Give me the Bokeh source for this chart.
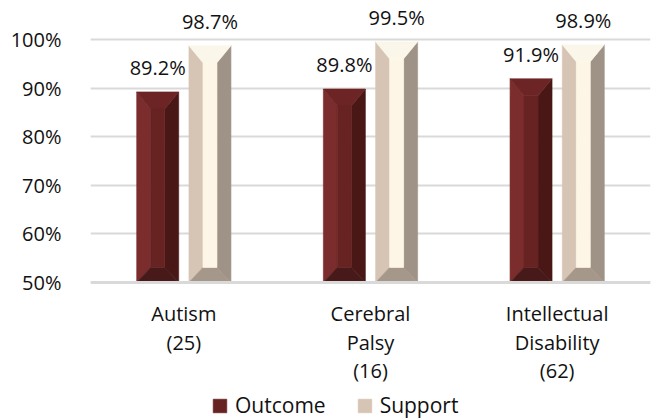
from bokeh.plotting import figure
from bokeh.models import (Range1d, FixedTicker, PrintfTickFormatter,
                          ColumnDataSource, Legend, LegendItem, Span)
from bokeh.embed import file_html
from bokeh.resources import INLINE
from bokeh.core.properties import value

# ---- data -------------------------------------------------------------
categories = ["Autism\n(25)", "Cerebral\nPalsy\n(16)", "Intellectual\nDisability\n(62)"]
outcome = [89.2, 89.8, 91.9]
support = [98.7, 99.5, 98.9]
series_names = ["Outcome", "Support"]
y_ticks = [50, 60, 70, 80, 90, 100]

# ---- style ------------------------------------------------------------
FONT = "Open Sans"
TEXT = "#111111"
GRID = "#d9d9d9"
BASE = 50                      # bars rise from the bottom of the value axis
PX_PER_UNIT = 282 / 58         # vertical pixels per percentage point
BAR_W = 0.225                  # bar width in category units
OFFSETS = [-0.14, 0.14]        # bar centre offsets inside a category
BEVEL_X = 0.075                # bevel inset, horizontal (category units)
BEVEL_TOP = 3.5                # bevel inset at the top (value units)
BEVEL_BOT = 3.1                # bevel inset at the bottom (value units)
CAT_FIRST_LINE = 31            # px from the base line to the first label line
CAT_LINE_STEP = 28.5           # px between label lines

# face colours: left, right, top, bottom, centre
FACES = {
    "Outcome": ["#7b2c2c", "#4a1717", "#6c2424", "#471919", "#672222"],
    "Support": ["#d6c5b5", "#9f9387", "#fbf6ea", "#a5978a", "#fdf6e6"],
}
LEGEND_FACE = {"Outcome": 4, "Support": 0}

centres = [i + 0.5 for i in range(len(categories))]

# the plot area spans the whole height; the value axis only ticks 50..100,
# and the room under the base line holds the category labels and legend
y_bottom = BASE - 138 / PX_PER_UNIT
p = figure(width=658, height=420, output_backend="svg", toolbar_location=None,
           x_range=Range1d(0, len(categories)), y_range=Range1d(y_bottom, 108),
           min_border_left=90, min_border_right=8, min_border_top=0,
           min_border_bottom=0)
p.outline_line_color = None
p.background_fill_color = "white"
p.border_fill_color = "white"
p.xaxis.visible = False


def bevel_bar(xc, top):
    """Polygons of one bevelled bar: left, right, top, bottom, centre faces."""
    x0, x1 = xc - BAR_W / 2, xc + BAR_W / 2
    y0, y1 = BASE, top
    ix0, ix1 = x0 + BEVEL_X, x1 - BEVEL_X
    iy0, iy1 = y0 + BEVEL_BOT, y1 - BEVEL_TOP
    return [
        ([x0, x0, ix0, ix0], [y0, y1, iy1, iy0]),
        ([x1, x1, ix1, ix1], [y0, y1, iy1, iy0]),
        ([x0, x1, ix1, ix0], [y1, y1, iy1, iy1]),
        ([x0, x1, ix1, ix0], [y0, y0, iy0, iy0]),
        ([ix0, ix1, ix1, ix0], [iy0, iy0, iy1, iy1]),
    ]


legend_items = []
label_x, label_y, label_t = [], [], []
for s, (name, vals) in enumerate(zip(series_names, [outcome, support])):
    xs, ys, cols = [], [], []
    for c, v in zip(centres, vals):
        xc = c + OFFSETS[s]
        for k, (fx, fy) in enumerate(bevel_bar(xc, v)):
            xs.append(fx)
            ys.append(fy)
            cols.append(FACES[name][k])
        label_x.append(xc)
        label_y.append(v + 5.0)
        label_t.append(f"{v:.1f}%")
    src = ColumnDataSource(dict(xs=xs, ys=ys, color=cols))
    r = p.patches("xs", "ys", source=src, fill_color="color",
                  line_color="color", line_width=0.6)
    legend_items.append(LegendItem(label=name, renderers=[r],
                                   index=LEGEND_FACE[name]))

# value labels above bars
p.text(x=label_x, y=label_y, text=label_t, text_align="center",
       text_baseline="middle", text_font=value(FONT),
       text_font_size="20px", text_color=TEXT)

# category labels under the base line, one text per line
cat_x, cat_y, cat_t = [], [], []
for c, lab in zip(centres, categories):
    for k, line in enumerate(lab.split("\n")):
        cat_x.append(c)
        cat_y.append(BASE - (CAT_FIRST_LINE + k * CAT_LINE_STEP) / PX_PER_UNIT)
        cat_t.append(line)
p.text(x=cat_x, y=cat_y, text=cat_t, text_align="center",
       text_baseline="middle", text_font=value(FONT),
       text_font_size="20px", text_color=TEXT)

# base line of the category axis
p.add_layout(Span(location=BASE, dimension="width", line_color=GRID,
                  line_width=3))

# ---- value axis -------------------------------------------------------
p.yaxis.ticker = FixedTicker(ticks=y_ticks)
p.yaxis.formatter = PrintfTickFormatter(format="%d%%")
p.yaxis.axis_line_color = None
p.yaxis.major_tick_line_color = None
p.yaxis.minor_tick_line_color = None
p.yaxis.major_label_standoff = 23
p.yaxis.major_label_text_font = FONT
p.yaxis.major_label_text_font_size = "20px"
p.yaxis.major_label_text_color = TEXT

p.xgrid.grid_line_color = None
p.ygrid.grid_line_color = GRID
p.ygrid.grid_line_width = 2

legend = Legend(items=legend_items, orientation="horizontal",
                location=(121, 1), glyph_width=17, glyph_height=17,
                label_standoff=7, spacing=30, padding=2, margin=0,
                border_line_color=None, background_fill_alpha=0,
                label_text_font=FONT, label_text_font_size="21px",
                label_text_color=TEXT)
p.add_layout(legend, "center")

open("out.html", "w").write(file_html(p, INLINE))
